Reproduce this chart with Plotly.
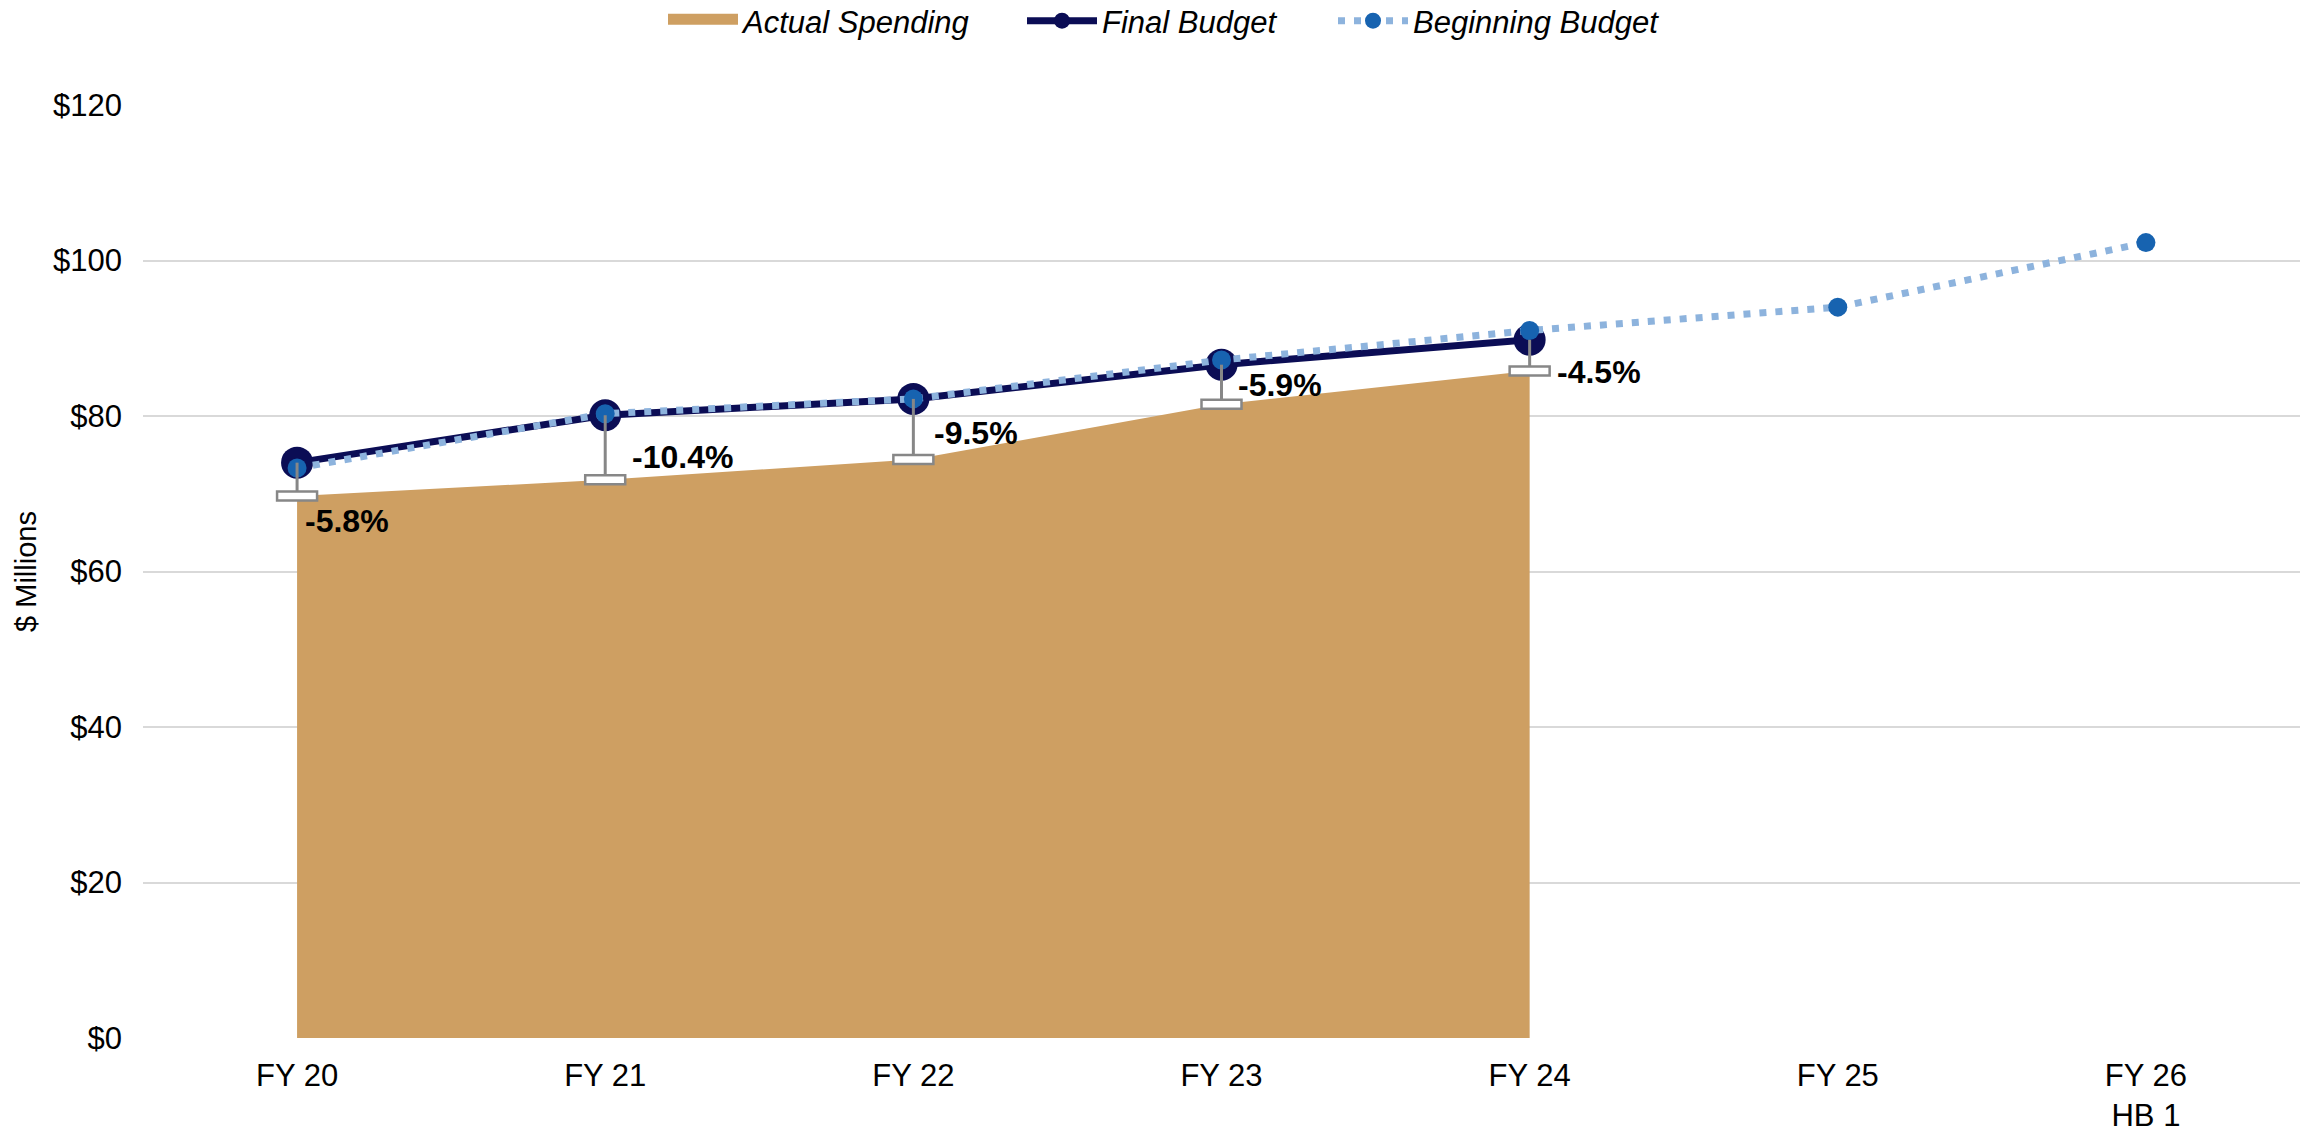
import plotly.graph_objects as go

categories = ["FY 20", "FY 21", "FY 22", "FY 23", "FY 24", "FY 25", "FY 26<br>HB 1"]
actual_spending = [69.7, 71.8, 74.4, 81.5, 85.8]
final_budget = [74.0, 80.1, 82.2, 86.6, 89.8]
beginning_budget = [73.3, 80.3, 82.2, 87.2, 91.0, 94.0, 102.3]
pct_change = [-5.8, -10.4, -9.5, -5.9, -4.5]
y_ticks = [0, 20, 40, 60, 80, 100, 120]

# label placement offsets (pixels), style only
label_dx = [6, 25, 19, 14, 25]
label_dy = [-25, 23, 27, 19, -1]

FONT = "Liberation Sans, Arial, sans-serif"
TAN = "#CE9F62"
NAVY = "#0B0D55"
BLUE = "#1763B0"
LIGHT = "#8DB3DD"
GRAY = "#878787"
W, H = 2315, 1130

xa = list(range(len(actual_spending)))
xf = list(range(len(final_budget)))
xb = list(range(len(beginning_budget)))

fig = go.Figure()
fig.add_trace(go.Scatter(
    x=xa, y=actual_spending, name="Actual Spending", mode="lines",
    fill="tozeroy", fillcolor=TAN, line=dict(width=0, color=TAN),
    showlegend=False, hoverinfo="skip"))
# legend entry for the area
fig.add_trace(go.Scatter(
    x=[None], y=[None], name="Actual Spending", mode="lines",
    fill="toself", fillcolor=TAN, line=dict(width=10, color=TAN),
    legend="legend"))
fig.add_trace(go.Scatter(
    x=xf, y=final_budget, name="Final Budget", mode="lines+markers",
    line=dict(color=NAVY, width=7), marker=dict(color=NAVY, size=32),
    legend="legend2"))
fig.add_trace(go.Scatter(
    x=xb, y=beginning_budget, name="Beginning Budget", mode="lines+markers",
    line=dict(color=LIGHT, width=7, dash="7px,9px"),
    marker=dict(color=BLUE, size=19), legend="legend3"))
fig.add_trace(go.Scatter(
    x=xa, y=actual_spending, mode="markers", showlegend=False,
    marker=dict(color="rgba(0,0,0,0)", size=1),
    error_y=dict(type="data", symmetric=False,
                 array=[f - a for f, a in zip(final_budget, actual_spending)],
                 arrayminus=[0] * len(actual_spending),
                 color=GRAY, thickness=3, width=0),
    hoverinfo="skip"))

shapes = []
annotations = []
for i, (a, p) in enumerate(zip(actual_spending, pct_change)):
    shapes.append(dict(type="rect", xref="x", yref="y",
                       xsizemode="pixel", xanchor=i, x0=-20, x1=20,
                       ysizemode="pixel", yanchor=a, y0=-4.5, y1=4.5,
                       line=dict(color=GRAY, width=2.5), fillcolor="white",
                       layer="above"))
    annotations.append(dict(x=i, y=a, xref="x", yref="y", text=f"{p:.1f}%",
                            showarrow=False, xanchor="left", yanchor="middle",
                            xshift=label_dx[i], yshift=label_dy[i],
                            font=dict(family=FONT, size=32, color="black", weight="bold")))

def leg(xpx):
    return dict(orientation="h", x=xpx / W, xref="container", xanchor="left",
                y=1 - 21 / H, yref="container", yanchor="middle",
                font=dict(family=FONT, size=31, style="italic", color="black"),
                itemwidth=70, bgcolor="rgba(0,0,0,0)", borderwidth=0)

fig.update_layout(
    width=W, height=H,
    margin=dict(l=143, r=15, t=105, b=92, autoexpand=False),
    paper_bgcolor="white", plot_bgcolor="white",
    font=dict(family=FONT, size=31, color="black"),
    shapes=shapes, annotations=annotations,
    legend=leg(668 - 5), legend2=leg(1028 - 6), legend3=leg(1339 - 6),
    xaxis=dict(range=[-0.5, 6.5], tickmode="array", tickvals=xb, ticktext=categories,
               showgrid=False, zeroline=False, showline=False, ticks="",
               ticklabelstandoff=16, tickfont=dict(size=31), automargin=False),
    yaxis=dict(range=[0, 120], tickmode="array", tickvals=y_ticks,
               ticktext=[f"${v}" for v in y_ticks],
               gridcolor="#D9D9D9", gridwidth=2, zeroline=False, showline=False,
               ticks="", ticklabelstandoff=20, tickfont=dict(size=31), automargin=False,
               title=dict(text="$ Millions", font=dict(size=29), standoff=7)),
)

fig.write_html("out.html", config={"displayModeBar": False},
               post_script="document.body.style.margin='0';document.body.style.overflow='hidden';")
